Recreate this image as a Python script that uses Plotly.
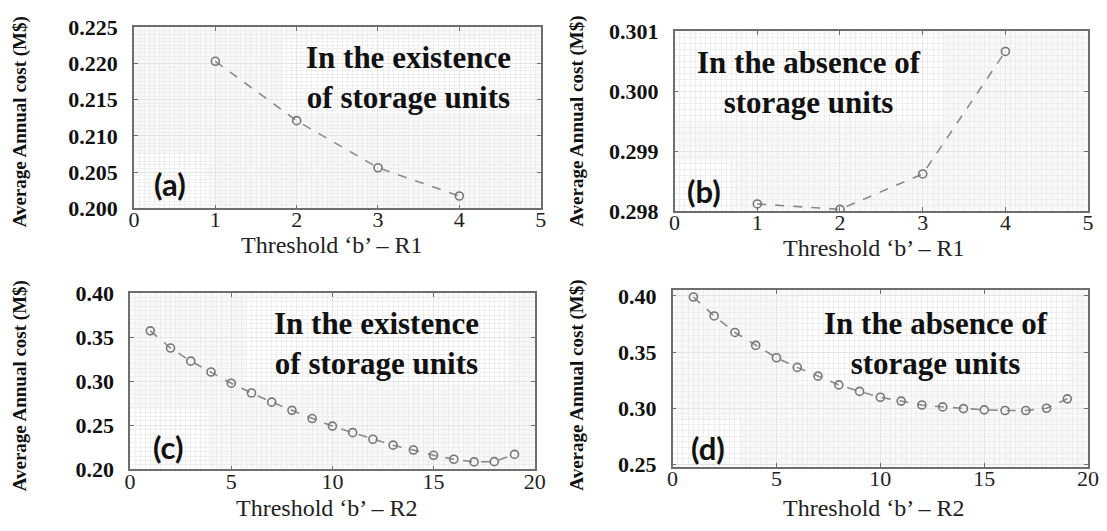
import plotly.graph_objects as go

W, H = 1107, 531

# ---------------- data ----------------
b_r1 = [1, 2, 3, 4]
cost_a = [0.2203, 0.2121, 0.2056, 0.2017]          # with storage, R1
cost_b = [0.29812, 0.29803, 0.29862, 0.30066]      # without storage, R1

b_r2 = list(range(1, 20))
cost_c = [0.3572, 0.3377, 0.3228, 0.3105, 0.2978, 0.2867, 0.2763, 0.2670,
          0.2577, 0.2491, 0.2417, 0.2342, 0.2275, 0.2220, 0.2160, 0.2115,
          0.2085, 0.2088, 0.2170]                  # with storage, R2
cost_d = [0.3990, 0.3821, 0.3674, 0.3559, 0.3449, 0.3363, 0.3285, 0.3207,
          0.3149, 0.3097, 0.3063, 0.3028, 0.3011, 0.2996, 0.2985, 0.2979,
          0.2979, 0.2999, 0.3083]                  # without storage, R2

y_title = "Average Annual cost (M$)"
x_title_r1 = "Threshold \u2018b\u2019 \u2013 R1"
x_title_r2 = "Threshold \u2018b\u2019 \u2013 R2"
cap_exist = "<b>In the existence</b><br><b>of storage units</b>"
cap_absent = "<b>In the absence of</b><br><b>storage units</b>"
panel_tags = ["(a)", "(b)", "(c)", "(d)"]

# ---------------- layout helpers (screen pixels -> paper) ----------------
def px(x):
    return x / W

def py(y):
    return 1 - y / H

SERIF = "Times New Roman, Liberation Serif, Tinos, serif"
SANS = "Lato, Open Sans, sans-serif"
AX = "#6e6e6e"

panels = [
    dict(x0=130, x1=543, y0=16, y1=206, xs=b_r1, ys=cost_a, yr=[0.200, 0.225], ydt=0.005,
         yf=".3f", xr=[0, 5], xdt=1, xm=0.0625, ym=0.0005),
    dict(x0=679, x1=1099, y0=20, y1=209, xs=b_r1, ys=cost_b, yr=[0.298, 0.301], ydt=0.001,
         yf=".3f", xr=[0, 5], xdt=1, xm=0.0625, ym=0.0001),
    dict(x0=126, x1=537, y0=295, y1=480, xs=b_r2, ys=cost_c, yr=[0.20, 0.40], ydt=0.05,
         yf=".2f", xr=[0, 20], xdt=5, xm=0.25, ym=0.005),
    dict(x0=677, x1=1099, y0=292, y1=477, xs=b_r2, ys=cost_d, yr=[0.248, 0.405], ydt=0.05,
         yf=".2f", xr=[0, 20], xdt=5, xm=0.25, ym=0.005),
]

fig = go.Figure()
layout = dict(
    width=W, height=H, margin=dict(l=0, r=0, t=0, b=0),
    paper_bgcolor="white", plot_bgcolor="#f9f9f9", showlegend=False,
)

shapes = []
annotations = []

for i, p in enumerate(panels):
    n = "" if i == 0 else str(i + 1)
    xa, ya = "x" + n, "y" + n
    fig.add_trace(go.Scatter(
        x=p["xs"], y=p["ys"], xaxis=xa, yaxis=ya, mode="lines+markers",
        line=dict(color="#8a8a8a", width=1.6, dash="dash"),
        marker=dict(symbol="circle-open", size=8, color="#777777", line=dict(width=1.6)),
    ))
    common = dict(showline=True, mirror="ticks", linecolor=AX, linewidth=1.5,
                  ticks="inside", ticklen=4, tickcolor=AX, zeroline=False,
                  showgrid=True, gridcolor="#e4e4e4", gridwidth=1)
    layout["xaxis" + n] = dict(
        common, domain=[px(p["x0"]), px(p["x1"])], range=p["xr"], dtick=p["xdt"],
        anchor=ya, tickfont=dict(family=SERIF, size=22, color="#222"),
        ticklabelstandoff=-9,
        minor=dict(dtick=p["xm"], showgrid=True, gridcolor="#eeeeee", gridwidth=1, ticks=""),
    )
    layout["yaxis" + n] = dict(
        common, domain=[py(p["y1"]), py(p["y0"])], range=p["yr"], dtick=p["ydt"],
        tickformat=p["yf"], anchor=xa,
        tickfont=dict(family=SERIF, size=22, color="#111", weight="bold"),
        ticklabelstandoff=10,
        minor=dict(dtick=p["ym"], showgrid=True, gridcolor="#eeeeee", gridwidth=1, ticks=""),
    )

# white boxes behind the panel texts
boxes = [
    (281, 537, 28, 107), (130, 205, 148, 205),
    (680, 952, 24, 116), (680, 735, 158, 208),
    (243, 511, 301, 391), (127, 205, 418, 479),
    (806, 1079, 298, 391), (678, 745, 428, 476),
]
for (x0, x1, y0, y1) in boxes:
    shapes.append(dict(type="rect", xref="paper", yref="paper", x0=px(x0), x1=px(x1),
                       y0=py(y1), y1=py(y0), fillcolor="white", line=dict(width=0),
                       layer="between"))

# big captions
for (cx, cy, txt) in [(409, 69, cap_exist), (816, 74, cap_absent),
                      (376, 348, cap_exist), (944, 348, cap_absent)]:
    annotations.append(dict(x=px(cx), y=py(cy), xref="paper", yref="paper", text=txt,
                            showarrow=False, xanchor="center", yanchor="middle", align="center",
                            font=dict(family=SERIF, size=31, color="#111")))

# panel tags
for (cx, cy), t in zip([(167, 181), (709, 188), (165, 456), (713, 458)], panel_tags):
    annotations.append(dict(x=px(cx), y=py(cy), xref="paper", yref="paper", text="<b>" + t + "</b>",
                            showarrow=False, xanchor="center", yanchor="middle",
                            font=dict(family=SANS, size=31, color="#111")))

# x titles
for (cx, cy, t) in [(331, 244, x_title_r1), (882, 248, x_title_r1),
                    (326, 521, x_title_r2), (882, 521, x_title_r2)]:
    annotations.append(dict(x=px(cx), y=py(cy), xref="paper", yref="paper", text=t,
                            showarrow=False, xanchor="center", yanchor="middle",
                            font=dict(family=SERIF, size=24, color="#222")))

# y titles
for (cx, cy) in [(14, 115), (579, 115), (14, 392), (579, 392)]:
    annotations.append(dict(x=px(cx), y=py(cy), xref="paper", yref="paper",
                            text="<b>" + y_title + "</b>",
                            showarrow=False, xanchor="center", yanchor="middle", textangle=-90,
                            font=dict(family=SERIF, size=19, color="#111")))

layout["shapes"] = shapes
layout["annotations"] = annotations
fig.update_layout(**layout)
fig.write_html("out.html", config={"displayModeBar": False},
               post_script="document.body.style.margin='0px';"
                           "document.body.style.overflow='hidden';")
